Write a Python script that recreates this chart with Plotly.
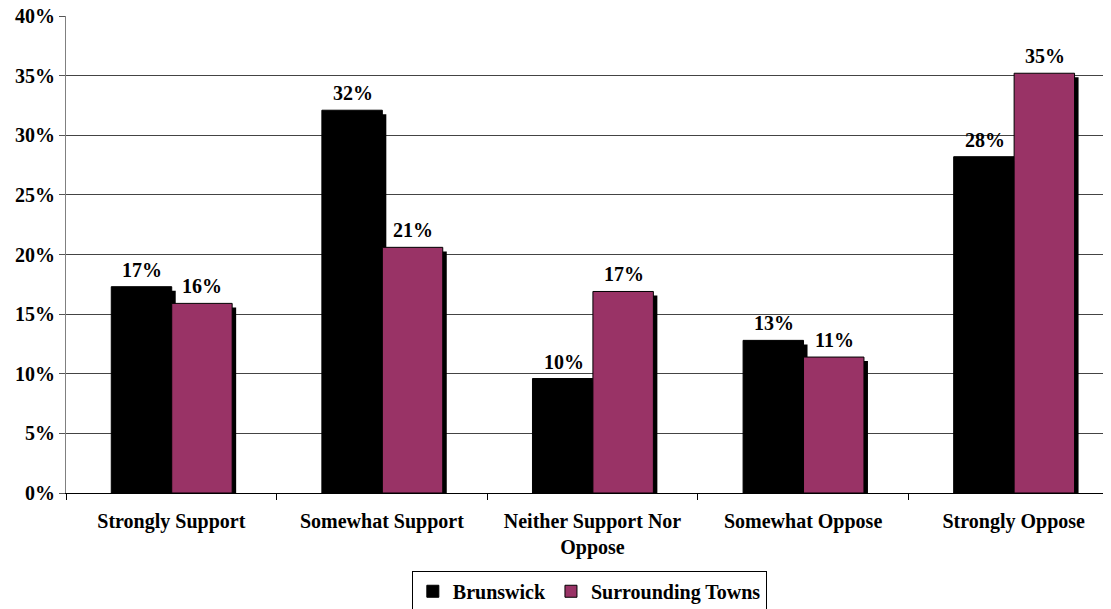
import plotly.graph_objects as go

categories = ["Strongly Support", "Somewhat Support", "Neither Support Nor<br>Oppose",
              "Somewhat Oppose", "Strongly Oppose"]
brunswick = [17.3, 32.1, 9.6, 12.8, 28.2]
surrounding = [15.9, 20.6, 16.9, 11.4, 35.2]
labels_b = ["17%", "32%", "10%", "13%", "28%"]
labels_s = ["16%", "21%", "17%", "11%", "35%"]

MAGENTA = "#993366"
FONT = "Liberation Serif"
W = 0.287
OFF_B = -0.285
OFF_S = 0.002
SH_X = 0.019   # shadow shift (category units)
SH_Y = 0.34    # shadow drop (axis units)

fig = go.Figure()

# shadows
for vals, off in [(brunswick, OFF_B), (surrounding, OFF_S)]:
    fig.add_trace(go.Bar(
        x=categories, y=[v - SH_Y for v in vals], width=W, offset=off + SH_X,
        marker=dict(color="black", line=dict(width=0)),
        showlegend=False, hoverinfo="skip"))

fig.add_trace(go.Bar(
    x=categories, y=brunswick, name="<b>Brunswick</b>", width=W, offset=OFF_B,
    marker=dict(color="black", line=dict(color="black", width=1))))
fig.add_trace(go.Bar(
    x=categories, y=surrounding, name="<b>Surrounding Towns</b>", width=W, offset=OFF_S,
    marker=dict(color=MAGENTA, line=dict(color="black", width=1))))

for i, c in enumerate(categories):
    fig.add_annotation(x=c, y=brunswick[i], text="<b>%s</b>" % labels_b[i], showarrow=False,
                       xshift=-29, yshift=17, font=dict(family=FONT, size=20, color="black"))
    fig.add_annotation(x=c, y=surrounding[i], text="<b>%s</b>" % labels_s[i], showarrow=False,
                       xshift=31, yshift=17, font=dict(family=FONT, size=20, color="black"))

fig.update_layout(
    width=1111, height=609,
    margin=dict(l=58, r=0, t=8, b=124),
    plot_bgcolor="white", paper_bgcolor="white",
    barmode="overlay",
    font=dict(family=FONT, size=20, color="black"),
    legend=dict(orientation="h", x=0.497, xanchor="center", y=-0.163, yanchor="top",
                bordercolor="black", borderwidth=1,
                font=dict(family=FONT, size=20, color="black"),
                itemwidth=30, tracegroupgap=0),
    showlegend=True,
)
fig.update_xaxes(
    type="category", range=[-0.5, 4.5], tickson="boundaries",
    ticks="outside", ticklen=6, tickcolor="black",
    showline=True, linecolor="black", linewidth=1,
    showgrid=False, ticklabelstandoff=10, automargin=False,
    tickfont=dict(family=FONT, size=20, color="black"),
    tickvals=categories, ticktext=["<b>%s</b>" % c for c in categories])
tick_vals = [0, 5, 10, 15, 20, 25, 30, 35, 40]
fig.update_yaxes(
    range=[0, 40], tickvals=tick_vals, ticktext=["<b>%d%%</b>" % v for v in tick_vals],
    ticks="outside", ticklen=6, tickcolor="#555", ticklabeloverflow="allow",
    showline=True, linecolor="#808080", linewidth=1, automargin=False,
    showgrid=True, gridcolor="#444", gridwidth=1, zeroline=False,
    tickfont=dict(family=FONT, size=20, color="black"))

fig.write_html("out.html")
